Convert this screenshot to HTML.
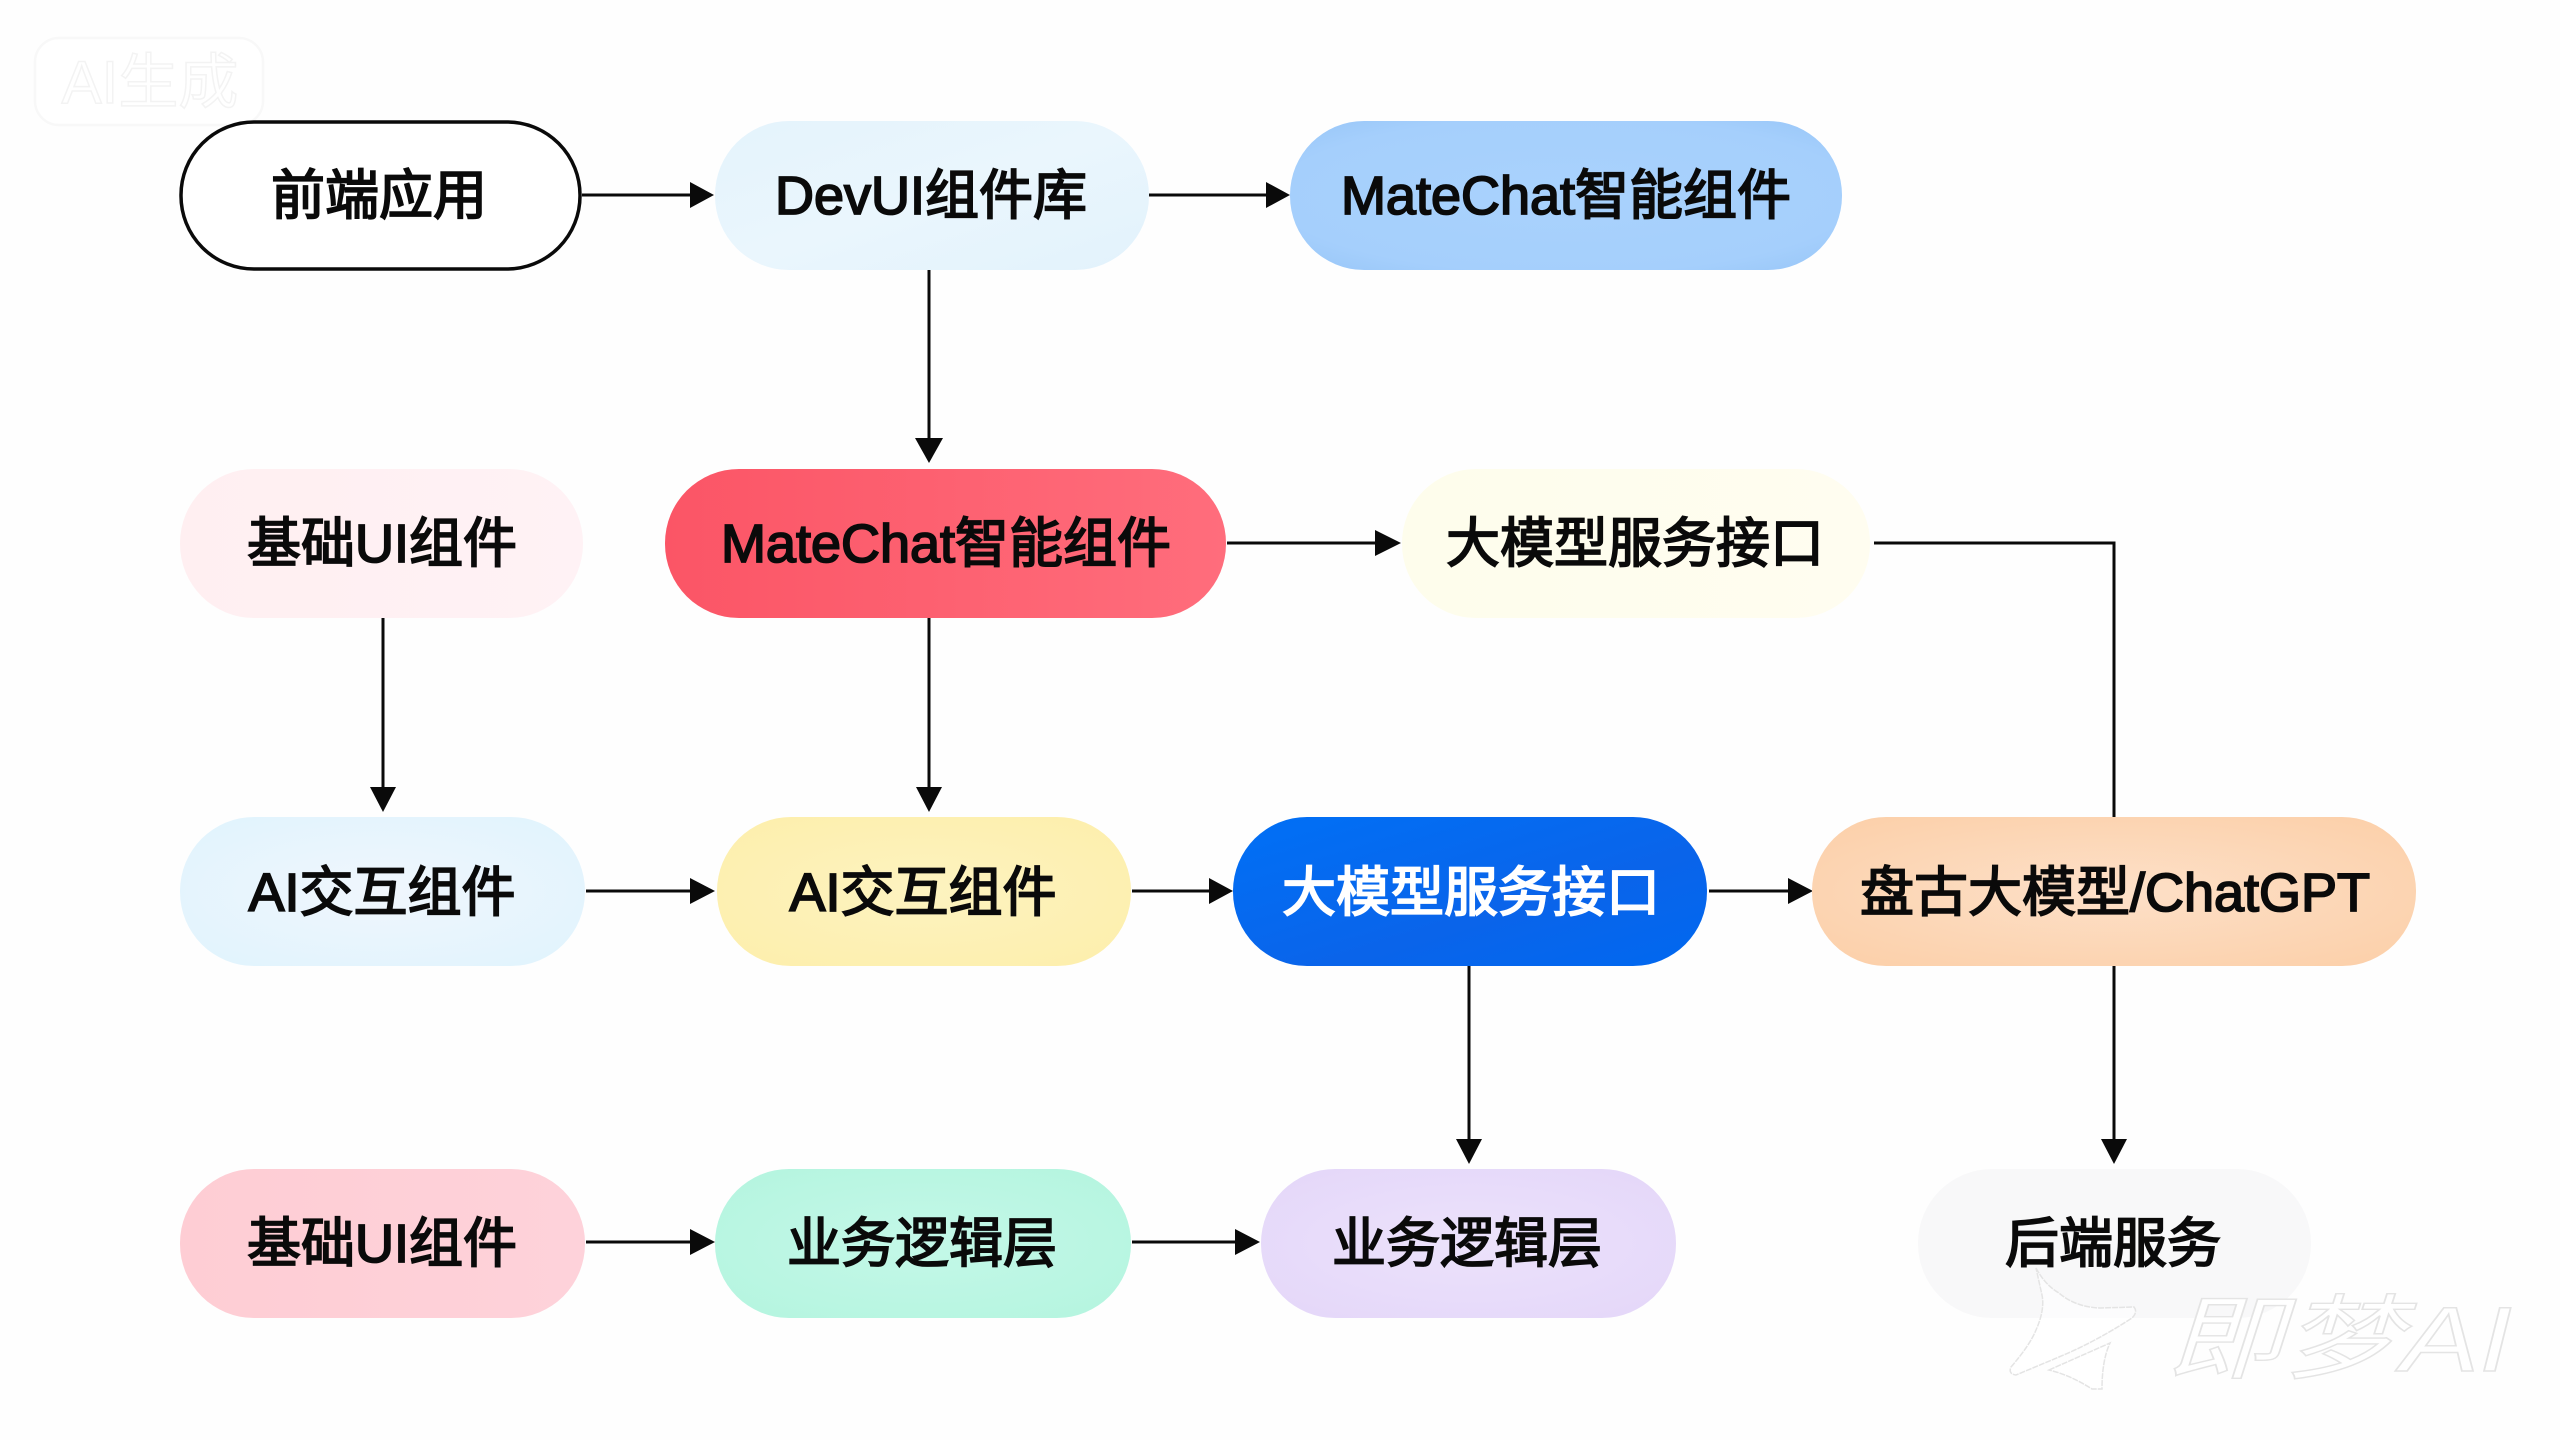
<!DOCTYPE html>
<html lang="zh">
<head>
<meta charset="utf-8">
<title>架构图</title>
<style>
html,body{margin:0;padding:0;width:2560px;height:1440px;background:#fefefe;overflow:hidden}
svg{display:block}
.t{font-family:"Liberation Sans","Noto Sans CJK SC",sans-serif;font-size:54px;text-anchor:middle;fill:#0a0a0a;stroke:#0a0a0a;stroke-width:1.8px;font-weight:400;paint-order:stroke}
.w{fill:#fff;stroke:#fff}
.l{fill:none;stroke:#0a0a0a;stroke-width:3}
.a{fill:#0a0a0a;stroke:none}
</style>
</head>
<body>
<svg width="2560" height="1440" viewBox="0 0 2560 1440" xmlns="http://www.w3.org/2000/svg">
<defs>
<linearGradient id="gDev" x1="0" y1="0" x2="1" y2="1"><stop offset="0" stop-color="#e4f3fc"/><stop offset=".5" stop-color="#eaf6fd"/><stop offset="1" stop-color="#e2f2fc"/></linearGradient>
<radialGradient id="gBlue" cx=".5" cy=".5" r=".7"><stop offset="0" stop-color="#a9d2fd"/><stop offset=".75" stop-color="#a5cffc"/><stop offset="1" stop-color="#98c6f8"/></radialGradient>
<linearGradient id="gRed" x1="0" y1="0" x2="1" y2="0"><stop offset="0" stop-color="#fb5566"/><stop offset="1" stop-color="#ff6d7c"/></linearGradient>
<linearGradient id="gCream" x1="0" y1="0" x2="1" y2="0"><stop offset="0" stop-color="#fefdec"/><stop offset="1" stop-color="#fffdf0"/></linearGradient>
<linearGradient id="gPk" x1="0" y1="0" x2="1" y2="0"><stop offset="0" stop-color="#ffeff1"/><stop offset="1" stop-color="#fff2f5"/></linearGradient>
<radialGradient id="gAi" cx=".5" cy=".5" r=".6"><stop offset="0" stop-color="#f0f6fd"/><stop offset="1" stop-color="#e2f4fd"/></radialGradient>
<radialGradient id="gYe" cx=".5" cy=".5" r=".6"><stop offset="0" stop-color="#fdf3c0"/><stop offset="1" stop-color="#fdefae"/></radialGradient>
<linearGradient id="gBl2" x1="0" y1="0" x2="1" y2="1"><stop offset="0" stop-color="#0070f6"/><stop offset=".6" stop-color="#0a64ea"/><stop offset="1" stop-color="#0068f0"/></linearGradient>
<radialGradient id="gOr" cx=".5" cy=".5" r=".65"><stop offset="0" stop-color="#fde0c8"/><stop offset="1" stop-color="#fcd0aa"/></radialGradient>
<linearGradient id="gRo" x1="0" y1="0" x2="1" y2="0"><stop offset="0" stop-color="#fecdd4"/><stop offset="1" stop-color="#fed2da"/></linearGradient>
<radialGradient id="gGr" cx=".5" cy=".5" r=".6"><stop offset="0" stop-color="#c4f8e8"/><stop offset="1" stop-color="#b6f5e0"/></radialGradient>
<radialGradient id="gPu" cx=".5" cy=".5" r=".6"><stop offset="0" stop-color="#ece2fb"/><stop offset="1" stop-color="#e5d8f9"/></radialGradient>
</defs>

<rect width="2560" height="1440" fill="#fefefe"/>

<!-- watermark top-left -->
<rect x="35" y="38" width="228" height="87" rx="24" fill="#ffffff" stroke="#f8f8f8" stroke-width="2.500"/>
<text x="150" y="103" font-family="'Liberation Sans','Noto Sans CJK SC',sans-serif" font-size="60" text-anchor="middle" fill="#ffffff" stroke="#f3f3f3" stroke-width="1.500">AI生成</text>

<!-- connectors -->
<path class="l" d="M582 195H692"/><path class="a" d="M714 195L690 182V208Z"/>
<path class="l" d="M1149 195H1268"/><path class="a" d="M1290 195L1266 182V208Z"/>
<path class="l" d="M929 270V441"/><path class="a" d="M929 463L915 438H943Z"/>
<path class="l" d="M1227 543H1378"/><path class="a" d="M1401 543L1375 530V556Z"/>
<path class="l" d="M1874 543H2114V817"/>
<path class="l" d="M383 618V790"/><path class="a" d="M383 812L370 787H396Z"/>
<path class="l" d="M929 618V790"/><path class="a" d="M929 812L916 787H942Z"/>
<path class="l" d="M586 891H692"/><path class="a" d="M715 891L690 878V904Z"/>
<path class="l" d="M1132 891H1211"/><path class="a" d="M1233 891L1209 878V904Z"/>
<path class="l" d="M1709 891H1790"/><path class="a" d="M1813 891L1788 878V904Z"/>
<path class="l" d="M1469 966V1141"/><path class="a" d="M1469 1164L1456 1139H1482Z"/>
<path class="l" d="M2114 966V1141"/><path class="a" d="M2114 1164L2101 1139H2127Z"/>
<path class="l" d="M586 1242H692"/><path class="a" d="M715 1242L690 1229V1255Z"/>
<path class="l" d="M1132 1242H1237"/><path class="a" d="M1260 1242L1235 1229V1255Z"/>

<!-- row 1 -->
<rect x="181" y="122" width="399" height="147" rx="73" fill="#ffffff" stroke="#0a0a0a" stroke-width="3.500"/>
<text class="t" x="379" y="214">前端应用</text>
<rect x="715" y="121" width="434" height="149" rx="74" fill="url(#gDev)"/>
<text class="t" x="931" y="214">DevUI组件库</text>
<rect x="1290" y="121" width="552" height="149" rx="74" fill="url(#gBlue)"/>
<text class="t" x="1566" y="214">MateChat智能组件</text>

<!-- row 2 -->
<rect x="180" y="469" width="403" height="149" rx="74" fill="url(#gPk)"/>
<text class="t" x="382" y="562">基础UI组件</text>
<rect x="665" y="469" width="561" height="149" rx="74" fill="url(#gRed)"/>
<text class="t" x="946" y="562">MateChat智能组件</text>
<rect x="1402" y="469" width="468" height="149" rx="74" fill="url(#gCream)"/>
<text class="t" x="1635" y="562">大模型服务接口</text>

<!-- row 3 -->
<rect x="180" y="817" width="405" height="149" rx="74" fill="url(#gAi)"/>
<text class="t" x="382" y="911">AI交互组件</text>
<rect x="717" y="817" width="414" height="149" rx="74" fill="url(#gYe)"/>
<text class="t" x="923" y="911">AI交互组件</text>
<rect x="1233" y="817" width="474" height="149" rx="74" fill="url(#gBl2)"/>
<text class="t w" x="1471" y="911">大模型服务接口</text>
<rect x="1812" y="817" width="604" height="149" rx="74" fill="url(#gOr)"/>
<text class="t" x="2115" y="911">盘古大模型/ChatGPT</text>

<!-- row 4 -->
<rect x="180" y="1169" width="405" height="149" rx="74" fill="url(#gRo)"/>
<text class="t" x="382" y="1262">基础UI组件</text>
<rect x="715" y="1169" width="416" height="149" rx="74" fill="url(#gGr)"/>
<text class="t" x="922" y="1262">业务逻辑层</text>
<rect x="1261" y="1169" width="415" height="149" rx="74" fill="url(#gPu)"/>
<text class="t" x="1467" y="1262">业务逻辑层</text>
<rect x="1918" y="1169" width="393" height="149" rx="74" fill="#f8f8f9"/>
<text class="t" x="2113" y="1262">后端服务</text>

<!-- watermark bottom-right -->
<path d="M2036 1268Q2045 1285 2059 1293Q2075 1307 2100 1308L2134 1307Q2138 1312 2132 1318Q2095 1342 2059 1357L2016 1375Q2008 1374 2011 1367Q2030 1345 2036 1330Q2045 1310 2042 1295Z" fill="#ffffff" fill-opacity=".6" stroke="#e4e4e4" stroke-width="1.500" stroke-dasharray="6 1"/>
<path d="M2049 1370L2110 1343Q2102 1360 2102 1389L2092 1389Q2070 1375 2049 1370Z" fill="#ffffff" stroke="#e4e4e4" stroke-width="1.500" stroke-dasharray="6 1"/>
<text x="2339" y="1371" font-family="'Liberation Sans','Noto Sans CJK SC',sans-serif" font-size="92" font-style="italic" text-anchor="middle" textLength="346" lengthAdjust="spacingAndGlyphs" fill="#ffffff" stroke="#e4e4e4" stroke-width="1.400">即梦AI</text>
</svg>
</body>
</html>
